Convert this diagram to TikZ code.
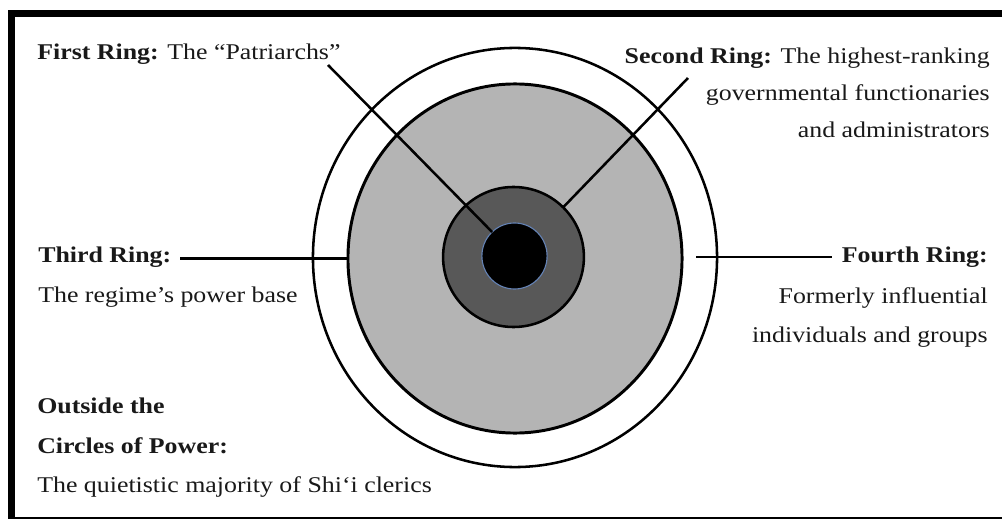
\documentclass[tikz,border=0pt]{standalone}
\usepackage{fontspec}
\setmainfont[FakeStretch=1.15]{Liberation Serif}
\usetikzlibrary{shapes.geometric}

\definecolor{ltgrey}{RGB}{180,180,180}
\definecolor{dkgrey}{RGB}{88,88,88}
\definecolor{ringblue}{RGB}{100,130,180}

\tikzset{
  ring/.style={ellipse, draw, inner sep=0pt, outer sep=0pt},
  ringtext/.style={inner sep=0pt, font=\fontsize{16}{19}\selectfont, text=black!90},
  pointer/.style={line width=1.8pt},
}

\begin{document}
\begin{tikzpicture}[x=0.025cm, y=-0.025cm]
\useasboundingbox (0,0) rectangle (1002,519);
\clip (0,0) rectangle (1002,519);
\fill[white] (0,0) rectangle (1002,519);
% frame
\draw[line width=5pt] (11.5,13.5) rectangle (1012,521);

% the rings
\node[ring, line width=1.8pt, fill=white, minimum width=10.1cm, minimum height=10.475cm] (outer) at (515,257.5) {};
\node[ring, line width=2.1pt, fill=ltgrey, minimum width=8.35cm, minimum height=8.725cm] (grey) at (515,258.5) {};
\node[ring, line width=1.8pt, fill=dkgrey, minimum width=3.52cm, minimum height=3.5cm] (dark) at (513.5,257) {};
\node[ring, draw=ringblue, line width=0.8pt, fill=black, minimum width=1.63cm, minimum height=1.65cm] (core) at (514.5,256) {};

% labels
\node[ringtext, anchor=base west] (first) at (37,60) {\textbf{First Ring:} The “Patriarchs”};
\node[ringtext, anchor=base east] (second) at (990,64) {\textbf{Second Ring:} The highest-ranking};
\node[ringtext, anchor=base east] (second2) at (990,101) {governmental functionaries};
\node[ringtext, anchor=base east] (second3) at (990,138) {and administrators};
\node[ringtext, anchor=base west] (third) at (38,263) {\textbf{Third Ring:}};
\node[ringtext, anchor=base west] (third2) at (38,302) {The regime’s power base};
\node[ringtext, anchor=base east] (fourth) at (988,262) {\textbf{Fourth Ring:}};
\node[ringtext, anchor=base east] (fourth2) at (988,303) {Formerly influential};
\node[ringtext, anchor=base east] (fourth3) at (988,342) {individuals and groups};
\node[ringtext, anchor=base west] (outside) at (37,413) {\textbf{Outside the}};
\node[ringtext, anchor=base west] (outside2) at (37,453) {\textbf{Circles of Power:}};
\node[ringtext, anchor=base west] (outside3) at (37,492) {The quietistic majority of Shi‘i clerics};

% pointers
\coordinate (p-first) at (328,65);
\coordinate (p-second) at (688,78);
\coordinate (p-third) at (180,258.5);
\coordinate (p-fourth-a) at (696,257);
\coordinate (p-fourth-b) at (832,257);
\draw[pointer] (p-first) -- (core.133);
\draw[pointer] (p-second) -- (dark.45);
\draw[pointer] (p-third) -- (grey.west);
\draw[pointer] (p-fourth-a) -- (p-fourth-b);
\end{tikzpicture}
\end{document}
